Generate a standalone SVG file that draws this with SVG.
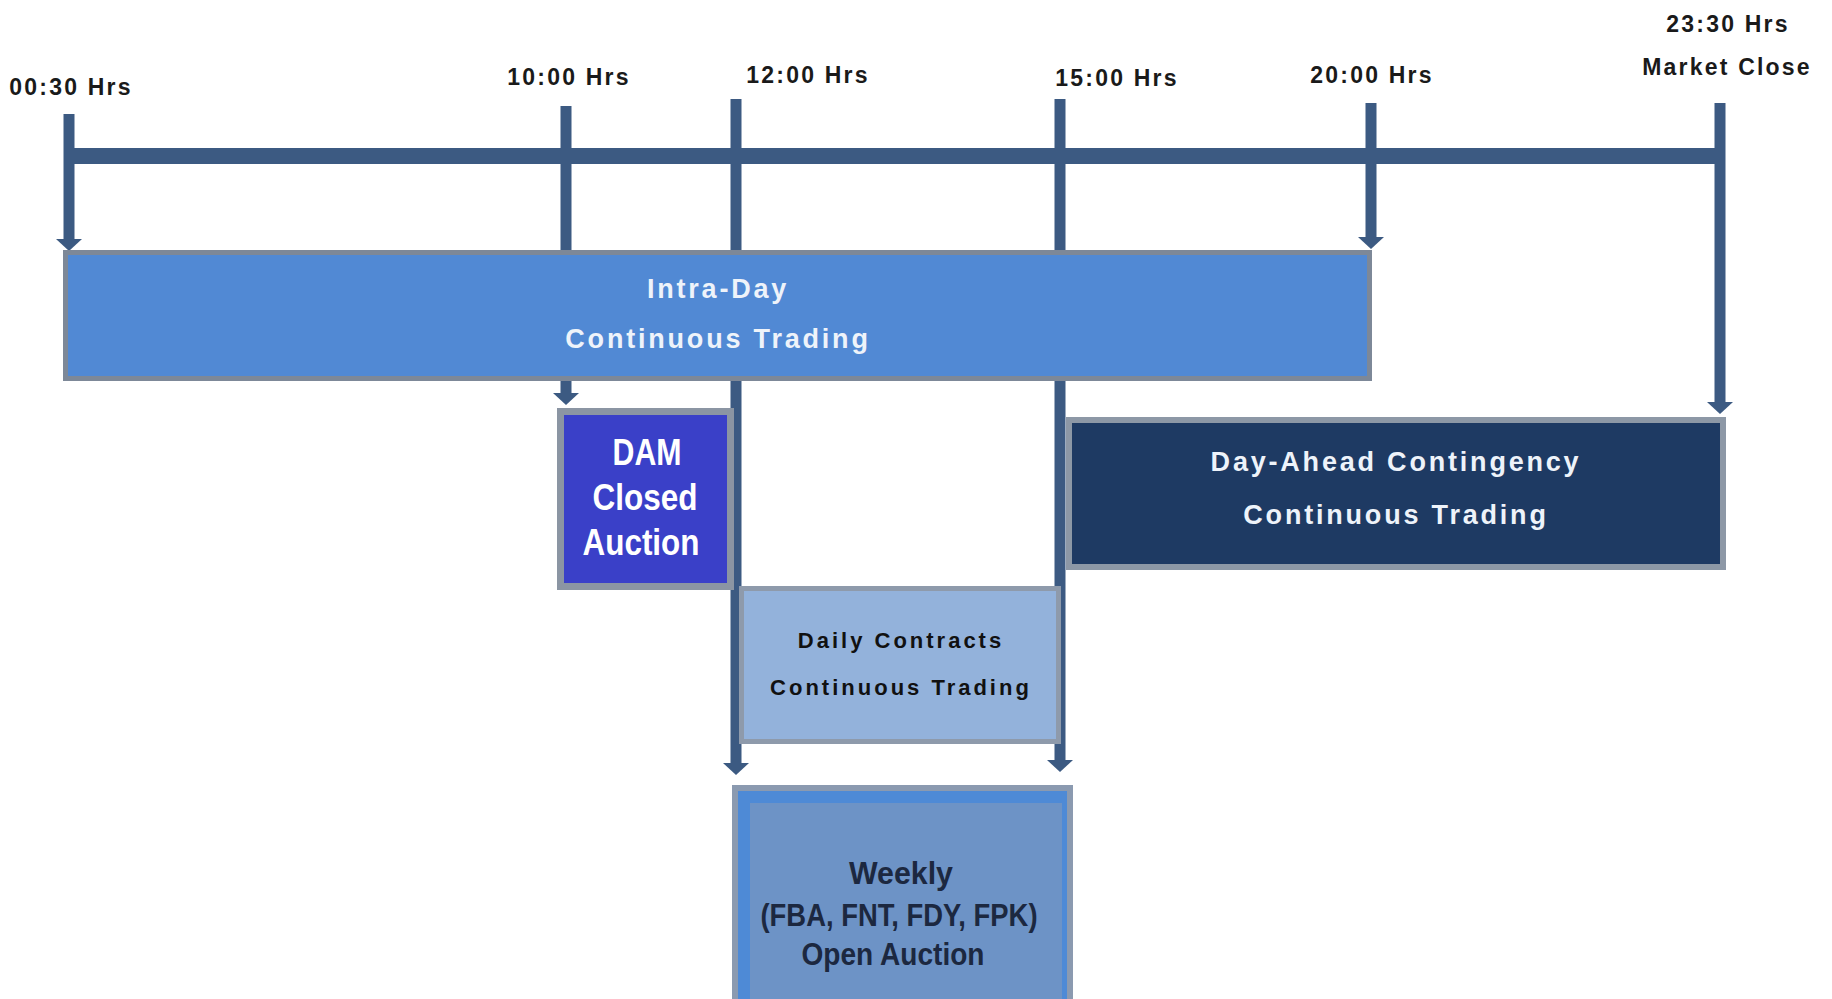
<svg xmlns="http://www.w3.org/2000/svg" width="1832" height="999" viewBox="0 0 1832 999">
  <defs>
    <marker id="ah" markerUnits="userSpaceOnUse" markerWidth="14" markerHeight="28" viewBox="0 -14 14 28" refX="0" refY="0" orient="auto">
      <path d="M0,-13 L12,0 L0,13 z" fill="#3c5a82"/>
    </marker>
  </defs>
  <style>
    .tl { stroke: #3c5a82; stroke-width: 11; fill: none; }
    .bar { stroke: #3c5a82; stroke-width: 16; fill: none; }
    .lbl { font-family: "Liberation Sans", Arial, sans-serif; font-weight: bold; font-size: 23px; letter-spacing: 2.2px; fill: #1a1a1a; text-anchor: middle; }
    .bt { font-family: "Liberation Sans", Arial, sans-serif; font-weight: bold; font-size: 27px; letter-spacing: 2.8px; fill: #eef3fa; text-anchor: middle; }
    .dt { font-family: "Liberation Sans", Arial, sans-serif; font-weight: bold; font-size: 22px; letter-spacing: 3px; fill: #111111; text-anchor: middle; }
    .nt { font-family: "Liberation Sans", Arial, sans-serif; font-weight: bold; text-anchor: middle; }
  </style>
  <rect width="1832" height="999" fill="#ffffff"/>

  <g id="labels">
    <text class="lbl" x="71" y="95">00:30 Hrs</text>
    <text class="lbl" x="569" y="85">10:00 Hrs</text>
    <text class="lbl" x="808" y="83">12:00 Hrs</text>
    <text class="lbl" x="1117" y="86">15:00 Hrs</text>
    <text class="lbl" x="1372" y="83">20:00 Hrs</text>
    <text class="lbl" x="1728" y="32">23:30 Hrs</text>
    <text class="lbl" x="1727" y="75">Market Close</text>
  </g>

  <g id="connectors">
    <line class="bar" x1="64" y1="156" x2="1725" y2="156"/>
    <line class="tl" x1="69" y1="114" x2="69" y2="239" marker-end="url(#ah)"/>
    <line class="tl" x1="566" y1="106" x2="566" y2="393" marker-end="url(#ah)"/>
    <line class="tl" x1="736" y1="99" x2="736" y2="763" marker-end="url(#ah)"/>
    <line class="tl" x1="1060" y1="99" x2="1060" y2="760" marker-end="url(#ah)"/>
    <line class="tl" x1="1371" y1="103" x2="1371" y2="237" marker-end="url(#ah)"/>
    <line class="tl" x1="1720" y1="103" x2="1720" y2="402" marker-end="url(#ah)"/>
  </g>

  <g id="intraday">
    <rect x="65.5" y="252.5" width="1304" height="126" fill="#5189d4" stroke="#7d8898" stroke-width="5"/>
    <text class="bt" x="718" y="298">Intra-Day</text>
    <text class="bt" x="718" y="348">Continuous Trading</text>
  </g>

  <g id="dam">
    <rect x="560.5" y="411.5" width="170" height="175" fill="#3a40c8" stroke="#8b95a3" stroke-width="7"/>
    <text class="nt" x="647" y="465" font-size="36" fill="#ffffff" textLength="69" lengthAdjust="spacingAndGlyphs">DAM</text>
    <text class="nt" x="645" y="510" font-size="36" fill="#ffffff" textLength="105" lengthAdjust="spacingAndGlyphs">Closed</text>
    <text class="nt" x="641" y="555" font-size="36" fill="#ffffff" textLength="117" lengthAdjust="spacingAndGlyphs">Auction</text>
  </g>

  <g id="dayahead">
    <rect x="1069" y="420" width="654" height="147" fill="#1e3a63" stroke="#8d98a6" stroke-width="6"/>
    <text class="bt" x="1396" y="471">Day-Ahead Contingency</text>
    <text class="bt" x="1396" y="524">Continuous Trading</text>
  </g>

  <g id="daily">
    <rect x="741.5" y="588.5" width="317" height="153" fill="#93b2db" stroke="#8e9aab" stroke-width="5"/>
    <text class="dt" x="901" y="648">Daily Contracts</text>
    <text class="dt" x="901" y="695">Continuous Trading</text>
  </g>

  <g id="weekly">
    <rect x="735" y="788" width="335" height="230" fill="#4e8ad6" stroke="#8b9ab0" stroke-width="6"/>
    <rect x="750" y="803" width="312" height="210" fill="#6d93c6"/>
    <text class="nt" x="901" y="884" font-size="31" fill="#1c2840" textLength="104" lengthAdjust="spacingAndGlyphs">Weekly</text>
    <text class="nt" x="899" y="926" font-size="31" fill="#1c2840" textLength="277" lengthAdjust="spacingAndGlyphs">(FBA, FNT, FDY, FPK)</text>
    <text class="nt" x="893" y="965" font-size="31" fill="#1c2840" textLength="183" lengthAdjust="spacingAndGlyphs">Open Auction</text>
  </g>
</svg>
